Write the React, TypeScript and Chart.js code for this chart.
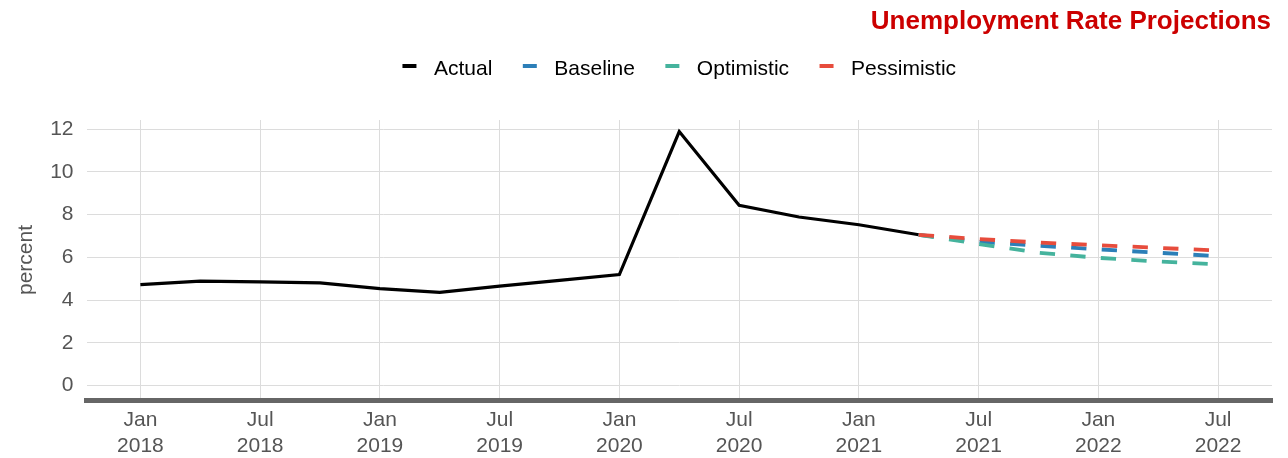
import { useEffect, useRef } from 'react';
import { Chart, registerables } from 'chart.js';

Chart.register(...registerables);

const FONT = "'Liberation Sans', Arial, sans-serif";

const TITLE = 'Unemployment Rate Projections';
const Y_TITLE = 'percent';

const ACTUAL_DATES = [
  '2018-01', '2018-04', '2018-07', '2018-10',
  '2019-01', '2019-04', '2019-07', '2019-10',
  '2020-01', '2020-04', '2020-07', '2020-10',
  '2021-01', '2021-04',
];
const ACTUAL_VALUES = [4.73, 4.89, 4.86, 4.81, 4.54, 4.37, 4.66, 4.93, 5.2, 11.89, 8.44, 7.89, 7.53, 7.06];

const PROJ_DATES = ['2021-04', '2021-07', '2021-10', '2022-01', '2022-04', '2022-07'];
const BASELINE_VALUES = [7.06, 6.73, 6.55, 6.38, 6.22, 6.06];
const OPTIMISTIC_VALUES = [7.06, 6.63, 6.22, 5.98, 5.81, 5.68];
const PESSIMISTIC_VALUES = [7.06, 6.86, 6.7, 6.57, 6.45, 6.32];

const X_TICK_DATES = [
  '2018-01', '2018-07', '2019-01', '2019-07', '2020-01',
  '2020-07', '2021-01', '2021-07', '2022-01', '2022-07',
];
const X_TICK_LABELS = [
  ['Jan', '2018'], ['Jul', '2018'], ['Jan', '2019'], ['Jul', '2019'], ['Jan', '2020'],
  ['Jul', '2020'], ['Jan', '2021'], ['Jul', '2021'], ['Jan', '2022'], ['Jul', '2022'],
];
const Y_TICKS = [0, 2, 4, 6, 8, 10, 12];

const SERIES_LABELS = ['Actual', 'Baseline', 'Optimistic', 'Pessimistic'];
const SERIES_COLORS = ['#000000', '#2C7FB8', '#45B39D', '#E74C3C'];

const TICK_COLOR = '#555555';
const GRID_COLOR = '#dcdcdc';
const TITLE_COLOR = '#CC0000';

// months since Jan 2018
const monthIndex = (s: string) => {
  const [y, m] = s.split('-').map(Number);
  return (y - 2018) * 12 + (m - 1);
};

const toPoints = (dates: string[], values: number[]) =>
  dates.map((d, i) => ({ x: monthIndex(d), y: values[i] }));

const headerPlugin = {
  id: 'headerPlugin',
  afterDraw(chart: any) {
    const { ctx, chartArea } = chart;
    ctx.save();
    // Title
    ctx.font = `bold 26px ${FONT}`;
    ctx.fillStyle = TITLE_COLOR;
    ctx.textAlign = 'right';
    ctx.textBaseline = 'alphabetic';
    ctx.fillText(TITLE, chartArea.right - 1, 28.5);

    // Legend
    ctx.font = `21px ${FONT}`;
    const markerW = 14;
    const gapText = 17.5;
    const gapItem = 30.5;
    const items = chart.data.datasets.map((ds: any) => ({
      label: ds.label as string,
      color: ds.borderColor as string,
      w: ctx.measureText(ds.label).width,
    }));
    const total =
      items.reduce((a: number, it: any) => a + markerW + gapText + it.w, 0) +
      gapItem * (items.length - 1);
    let x = (chartArea.left + chartArea.right) / 2 - total / 2;
    ctx.textAlign = 'left';
    for (const it of items) {
      ctx.strokeStyle = it.color;
      ctx.lineWidth = 4;
      ctx.lineCap = 'butt';
      ctx.setLineDash([]);
      ctx.beginPath();
      ctx.moveTo(x, 66);
      ctx.lineTo(x + markerW, 66);
      ctx.stroke();
      ctx.fillStyle = '#000000';
      ctx.fillText(it.label, x + markerW + gapText, 75);
      x += markerW + gapText + it.w + gapItem;
    }
    ctx.restore();
  },
};

export default function App() {
  const ref = useRef<HTMLCanvasElement>(null);

  useEffect(() => {
    if (!ref.current) return;
    Chart.defaults.font.family = FONT;
    const chart = new Chart(ref.current, {
      type: 'line',
      data: {
        datasets: [
          {
            label: SERIES_LABELS[0],
            data: toPoints(ACTUAL_DATES, ACTUAL_VALUES),
            borderColor: SERIES_COLORS[0],
            backgroundColor: SERIES_COLORS[0],
            borderWidth: 3.2,
            pointRadius: 0,
            tension: 0,
            order: 3,
          },
          {
            label: SERIES_LABELS[1],
            data: toPoints(PROJ_DATES, BASELINE_VALUES),
            borderColor: SERIES_COLORS[1],
            backgroundColor: SERIES_COLORS[1],
            borderWidth: 3.8,
            borderDash: [15.3, 15.3],
            pointRadius: 0,
            tension: 0,
            order: 2,
          },
          {
            label: SERIES_LABELS[2],
            data: toPoints(PROJ_DATES, OPTIMISTIC_VALUES),
            borderColor: SERIES_COLORS[2],
            backgroundColor: SERIES_COLORS[2],
            borderWidth: 3.8,
            borderDash: [15.3, 15.3],
            pointRadius: 0,
            tension: 0,
            order: 1,
          },
          {
            label: SERIES_LABELS[3],
            data: toPoints(PROJ_DATES, PESSIMISTIC_VALUES),
            borderColor: SERIES_COLORS[3],
            backgroundColor: SERIES_COLORS[3],
            borderWidth: 3.8,
            borderDash: [15.3, 15.3],
            pointRadius: 0,
            tension: 0,
            order: 0,
          },
        ],
      },
      options: {
        responsive: false,
        animation: false,
        events: [],
        layout: { padding: { top: 120, right: 16, bottom: 0, left: 0 } },
        plugins: {
          legend: { display: false },
          title: { display: false },
          tooltip: { enabled: false },
        },
        scales: {
          x: {
            type: 'linear',
            min: -2.7,
            max: 56.7,
            afterBuildTicks: (s: any) => {
              s.ticks = X_TICK_DATES.map((d) => ({ value: monthIndex(d) }));
            },
            afterFit: (s: any) => {
              s.height = 58;
            },
            ticks: {
              autoSkip: false,
              maxRotation: 0,
              minRotation: 0,
              padding: 8,
              color: TICK_COLOR,
              font: { size: 21, lineHeight: 1.2 },
              callback: (_v: any, i: number) => X_TICK_LABELS[i],
            },
            grid: { color: GRID_COLOR, lineWidth: 1, drawTicks: false },
            border: { display: true, color: '#666666', width: 5 },
          },
          y: {
            type: 'linear',
            min: -0.67,
            max: 12.43,
            afterBuildTicks: (s: any) => {
              s.ticks = Y_TICKS.map((v) => ({ value: v }));
            },
            afterFit: (s: any) => {
              s.width = 86.5;
            },
            ticks: {
              padding: 13,
              color: TICK_COLOR,
              font: { size: 21 },
            },
            grid: { color: GRID_COLOR, lineWidth: 1, drawTicks: false },
            border: { display: false },
            title: {
              display: true,
              text: Y_TITLE,
              color: TICK_COLOR,
              font: { size: 21 },
              padding: { top: 14, bottom: 0 },
            },
          },
        },
      },
      plugins: [headerPlugin],
    } as any);
    return () => chart.destroy();
  }, []);

  return (
    <div style={{ position: 'absolute', left: 0, top: 0, width: 1288, height: 458 }}>
      <canvas ref={ref} width={1288} height={458} style={{ display: 'block', width: 1288, height: 458 }} />
    </div>
  );
}
